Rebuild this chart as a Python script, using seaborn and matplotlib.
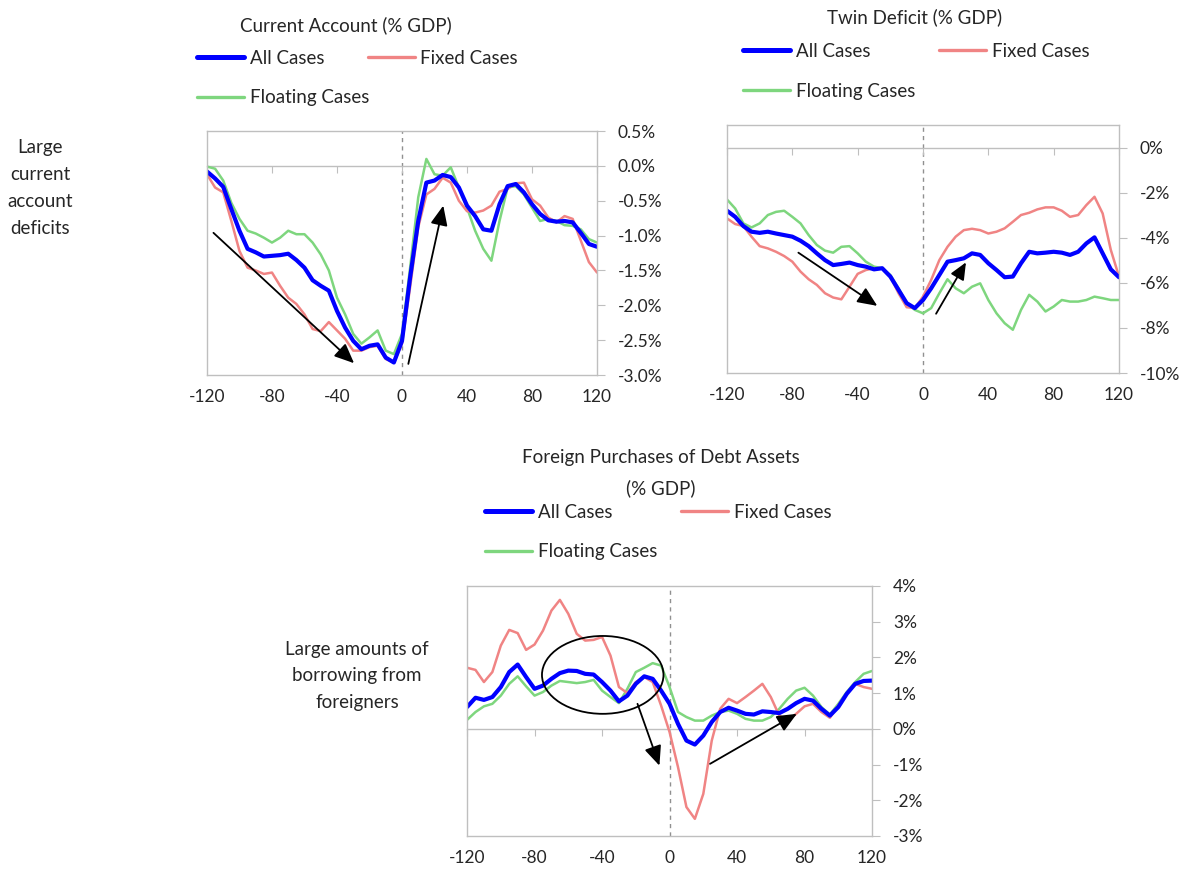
import pandas as pd
import matplotlib
matplotlib.use("Agg")
import matplotlib.pyplot as plt
import seaborn as sns
from matplotlib.patches import Ellipse
from matplotlib.lines import Line2D
from matplotlib.ticker import FuncFormatter

# months around the event, every 5 months
months = list(range(-120, 121, 5))

# Current Account (% GDP)
ca_all = [-0.08, -0.18, -0.30, -0.62, -0.93, -1.19, -1.24, -1.30, -1.29, -1.28, -1.26, -1.35, -1.46,
          -1.64, -1.72, -1.79, -2.08, -2.32, -2.51, -2.63, -2.58, -2.56, -2.75, -2.82, -2.51, -1.60,
          -0.79, -0.24, -0.21, -0.13, -0.16, -0.31, -0.57, -0.72, -0.91, -0.93, -0.55, -0.29, -0.26,
          -0.38, -0.55, -0.69, -0.78, -0.80, -0.79, -0.81, -0.96, -1.12, -1.16]
ca_fixed = [-0.12, -0.31, -0.38, -0.79, -1.22, -1.46, -1.50, -1.55, -1.53, -1.72, -1.89, -1.98, -2.13,
            -2.34, -2.37, -2.24, -2.36, -2.48, -2.65, -2.65, -2.60, -2.58, -2.77, -2.82, -2.55, -1.74,
            -0.88, -0.41, -0.33, -0.17, -0.24, -0.50, -0.65, -0.67, -0.64, -0.57, -0.37, -0.33, -0.25,
            -0.24, -0.48, -0.57, -0.74, -0.81, -0.72, -0.76, -1.07, -1.38, -1.53]
ca_float = [-0.01, -0.04, -0.21, -0.53, -0.76, -0.93, -0.97, -1.03, -1.10, -1.03, -0.93, -0.98, -0.98,
            -1.10, -1.27, -1.50, -1.89, -2.13, -2.41, -2.55, -2.46, -2.36, -2.65, -2.70, -2.41, -1.46,
            -0.45, 0.10, -0.12, -0.14, -0.02, -0.31, -0.60, -0.93, -1.19, -1.36, -0.79, -0.31, -0.29,
            -0.41, -0.60, -0.79, -0.76, -0.79, -0.85, -0.86, -0.91, -1.05, -1.10]

# Twin Deficit (% GDP)
td_all = [-2.80, -3.07, -3.48, -3.73, -3.78, -3.73, -3.81, -3.88, -3.95, -4.13, -4.37, -4.69, -4.99,
          -5.21, -5.16, -5.10, -5.21, -5.28, -5.40, -5.35, -5.72, -6.31, -6.90, -7.12, -6.76, -6.24,
          -5.65, -5.06, -4.99, -4.91, -4.69, -4.76, -5.13, -5.43, -5.75, -5.72, -5.13, -4.62, -4.69,
          -4.66, -4.62, -4.66, -4.76, -4.62, -4.25, -3.98, -4.69, -5.40, -5.75]
td_fixed = [-3.14, -3.39, -3.48, -3.95, -4.37, -4.47, -4.62, -4.81, -5.06, -5.50, -5.84, -6.09, -6.46,
            -6.65, -6.73, -6.17, -5.60, -5.43, -5.35, -5.35, -5.72, -6.46, -7.08, -7.12, -6.61, -5.87,
            -4.99, -4.40, -3.95, -3.66, -3.60, -3.66, -3.81, -3.73, -3.58, -3.29, -2.99, -2.89, -2.74,
            -2.65, -2.65, -2.80, -3.07, -2.99, -2.55, -2.18, -2.92, -4.54, -5.72]
td_float = [-2.30, -2.70, -3.36, -3.54, -3.36, -2.99, -2.85, -2.80, -3.07, -3.36, -3.88, -4.32, -4.57,
            -4.66, -4.40, -4.37, -4.69, -5.06, -5.28, -5.35, -5.65, -6.24, -6.90, -7.20, -7.35, -7.12,
            -6.46, -5.84, -6.24, -6.46, -6.17, -6.02, -6.76, -7.35, -7.79, -8.08, -7.20, -6.53, -6.83,
            -7.27, -7.05, -6.76, -6.83, -6.83, -6.76, -6.61, -6.68, -6.76, -6.76]

# Foreign Purchases of Debt Assets (% GDP)
fp_all = [0.61, 0.87, 0.81, 0.89, 1.17, 1.59, 1.80, 1.45, 1.12, 1.21, 1.40, 1.56, 1.63,
          1.62, 1.54, 1.52, 1.31, 1.07, 0.77, 0.93, 1.26, 1.47, 1.40, 1.07, 0.70, 0.14,
          -0.33, -0.44, -0.19, 0.19, 0.47, 0.59, 0.51, 0.42, 0.40, 0.49, 0.47, 0.44, 0.56,
          0.72, 0.84, 0.79, 0.56, 0.37, 0.61, 0.98, 1.26, 1.34, 1.35]
fp_fixed = [1.71, 1.65, 1.31, 1.59, 2.33, 2.77, 2.68, 2.21, 2.36, 2.75, 3.31, 3.61, 3.22,
            2.66, 2.47, 2.49, 2.57, 2.05, 1.17, 1.00, 1.31, 1.45, 1.31, 0.65, -0.09, -1.07,
            -2.19, -2.52, -1.82, -0.33, 0.56, 0.84, 0.72, 0.89, 1.07, 1.26, 0.89, 0.37, 0.23,
            0.42, 0.63, 0.70, 0.47, 0.31, 0.65, 0.98, 1.26, 1.17, 1.12]
fp_float = [0.25, 0.47, 0.63, 0.70, 0.93, 1.26, 1.47, 1.19, 0.93, 1.03, 1.21, 1.34, 1.31,
            1.28, 1.31, 1.37, 1.07, 0.89, 0.72, 1.12, 1.59, 1.71, 1.84, 1.77, 1.17, 0.47,
            0.33, 0.23, 0.23, 0.37, 0.47, 0.51, 0.42, 0.28, 0.23, 0.23, 0.33, 0.56, 0.84,
            1.07, 1.15, 0.93, 0.61, 0.40, 0.70, 1.03, 1.31, 1.54, 1.62]

series_names = ["All Cases", "Fixed Cases", "Floating Cases"]
colors = {"All Cases": "#0000ff", "Fixed Cases": "#f08484", "Floating Cases": "#7ed67e"}
widths = {"All Cases": 3.0, "Fixed Cases": 1.8, "Floating Cases": 1.8}

sns.set_style("white")
plt.rcParams['font.family'] = ['Lato', 'DejaVu Sans']
plt.rcParams['axes.unicode_minus'] = False

GRAY = "#bfbfbf"
FS_TICK = 12.5
FS_TEXT = 13.5

fig = plt.figure(figsize=(11.86, 8.73), dpi=100)


def draw_panel(rect, all_v, fixed_v, float_v, ylim, yticks, decimals):
    ax = fig.add_axes(rect)
    df = pd.DataFrame({"month": months, "All Cases": all_v,
                       "Fixed Cases": fixed_v, "Floating Cases": float_v})
    long_df = df.melt(id_vars="month", var_name="series", value_name="value")
    for name in ["Floating Cases", "Fixed Cases", "All Cases"]:
        sns.lineplot(data=long_df[long_df["series"] == name], x="month", y="value",
                     color=colors[name], linewidth=widths[name], ax=ax, legend=False)
    ax.set_xlim(-120, 120)
    ax.set_ylim(*ylim)
    ax.set_xlabel("")
    ax.set_ylabel("")
    ax.axvline(0, color="#909090", linestyle=(0, (3, 3)), linewidth=1.0, zorder=0)

    for sp in ax.spines.values():
        sp.set_color(GRAY)
        sp.set_linewidth(1.0)

    ax.set_xticks(range(-120, 121, 40))
    ax.tick_params(axis="x", length=0, labelsize=FS_TICK, pad=10)
    ax.yaxis.tick_right()
    ax.set_yticks(yticks)
    ax.yaxis.set_major_formatter(FuncFormatter(lambda v, p: f"{v:.{decimals}f}%"))
    ax.tick_params(axis="y", length=6, color=GRAY, labelsize=FS_TICK, pad=9, direction="out")

    # horizontal axis line at zero with its tick marks
    zero_frac = (0 - ylim[0]) / (ylim[1] - ylim[0])
    sec = ax.secondary_xaxis(zero_frac)
    sec.set_alignment("bottom")
    sec.set_xticks(range(-120, 121, 40))
    sec.set_xticklabels([])
    sec.tick_params(axis="x", length=5, color=GRAY, direction="out")
    sec.spines["bottom"].set_color(GRAY)
    sec.spines["bottom"].set_linewidth(1.0)
    return ax


def add_legend(x_px, y_px, x2_px):
    handles = {n: Line2D([], [], color=colors[n], linewidth=widths[n] + 0.6) for n in series_names}
    common = dict(frameon=False, borderpad=0, borderaxespad=0, handlelength=2.5,
                  handletextpad=0.3, labelspacing=1.2, fontsize=FS_TEXT, loc="upper left")
    fig.legend([handles["All Cases"], handles["Floating Cases"]], ["All Cases", "Floating Cases"],
               bbox_to_anchor=(x_px / 1186, 1 - y_px / 873), **common)
    fig.legend([handles["Fixed Cases"]], ["Fixed Cases"],
               bbox_to_anchor=(x2_px / 1186, 1 - y_px / 873), **common)


def arrow(ax, start, end, scale=15):
    ax.annotate("", xy=end, xytext=start,
                arrowprops=dict(arrowstyle="-|>,head_length=0.8,head_width=0.35",
                                color="black", lw=1.3, mutation_scale=scale,
                                shrinkA=0, shrinkB=0))


# Panel 1: Current Account
ax1 = draw_panel([0.1745, 0.5704, 0.3289, 0.2795], ca_all, ca_fixed, ca_float,
                 (-3.0, 0.5), [0.5, 0.0, -0.5, -1.0, -1.5, -2.0, -2.5, -3.0], 1)
arrow(ax1, (-116, -0.96), (-29.5, -2.83))
arrow(ax1, (3.9, -2.84), (25.4, -0.57))
fig.text(346 / 1186, 1 - 25 / 873, "Current Account (% GDP)", ha="center", va="center", fontsize=FS_TEXT)
add_legend(197, 50, 368)
fig.text(40 / 1186, 1 - 188 / 873, "Large\ncurrent\naccount\ndeficits", ha="center", va="center",
         fontsize=FS_TEXT, linespacing=1.72)

# Panel 2: Twin Deficit
ax2 = draw_panel([0.613, 0.5727, 0.3305, 0.284], td_all, td_fixed, td_float,
                 (-10, 1), [0, -2, -4, -6, -8, -10], 0)
arrow(ax2, (-76.3, -4.66), (-28, -7.02))
arrow(ax2, (8, -7.37), (26.3, -5.09), scale=13)
fig.text(915 / 1186, 1 - 17 / 873, "Twin Deficit (% GDP)", ha="center", va="center", fontsize=FS_TEXT)
add_legend(743, 43, 939)

# Panel 3: Foreign Purchases of Debt Assets
ax3 = draw_panel([0.3938, 0.0424, 0.3415, 0.2864], fp_all, fp_fixed, fp_float,
                 (-3, 4), [4, 3, 2, 1, 0, -1, -2, -3], 0)
ax3.add_patch(Ellipse((-39.6, 1.51), width=72, height=2.18, fill=False,
                      edgecolor="black", linewidth=1.3, zorder=5))
arrow(ax3, (-19, 0.70), (-6, -1.03))
arrow(ax3, (24, -0.98), (75.4, 0.42))
fig.text(661 / 1186, 1 - 473 / 873, "Foreign Purchases of Debt Assets\n(% GDP)", ha="center",
         va="center", fontsize=FS_TEXT, linespacing=1.85)
add_legend(485, 504, 681)
fig.text(357 / 1186, 1 - 676 / 873, "Large amounts of\nborrowing from\nforeigners", ha="center",
         va="center", fontsize=FS_TEXT, linespacing=1.7)

fig.savefig("out.png", dpi=100)
